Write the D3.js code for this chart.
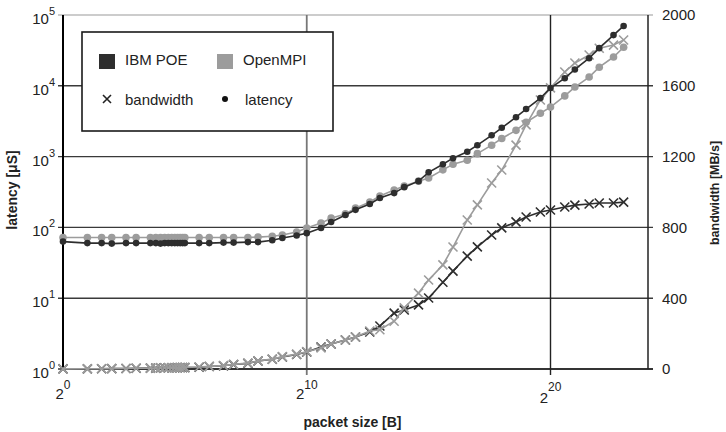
<!DOCTYPE html>
<html>
<head>
<meta charset="utf-8">
<script src="https://cdn.jsdelivr.net/npm/d3@7"></script>
<style>
  body { margin: 0; background: #fff; }
  svg { font-family: "Liberation Sans", Arial, sans-serif; }
</style>
</head>
<body>
<div id="chart"></div>
<script>
// latency / bandwidth vs packet size, IBM POE against OpenMPI

// packet sizes in bytes
var sizes = [1, 2, 3, 4, 6, 8, 12, 14, 16, 18, 20, 22, 24, 26, 28, 30, 32, 48,
  64, 96, 128, 192, 256, 384, 512, 768, 1024, 1536, 2048, 3072, 4096, 6144,
  8192, 12288, 16384, 24576, 32768, 49152, 65536, 98304, 131072, 196608,
  262144, 393216, 524288, 786432, 1048576, 1572864, 2097152, 3145728,
  4194304, 6291456, 8388608];

// latency in microseconds
var poeLatency = [63, 60, 60, 59, 60, 60, 60, 60, 59, 60, 60, 60, 60, 60, 60, 60, 60, 60,
  60, 61, 61, 62, 62, 66, 71, 77, 83, 98, 119, 150, 177, 214,
  260, 305, 370, 450, 600, 780, 950, 1170, 1450, 2000,
  2550, 3600, 4700, 6700, 9300, 12800, 17000, 24500,
  34000, 52000, 70000];
var mpiLatency = [72, 72, 72, 72, 72, 72, 72, 72, 72, 72, 72, 72, 72, 72, 72, 72, 72, 72,
  72, 72, 72, 72, 73, 75, 78, 86, 98, 115, 135, 155, 187, 228,
  278, 338, 385, 450, 500, 650, 780, 890, 1100, 1450,
  1800, 2350, 3050, 4100, 5000, 7200, 9600, 13300,
  18300, 25500, 35000];

// bandwidth in MB/s
var poeBandwidth = [0.5, 1, 1.5, 2, 3, 4, 5, 5, 6, 6, 7, 7, 7, 8, 8, 8, 8, 10,
  14, 18, 25, 32, 45, 55, 68, 82, 96, 124, 141, 164, 181, 209,
  243, 316, 333, 362, 401, 490, 553, 638, 690, 757,
  797, 831, 859, 887, 898, 915, 926, 932,
  938, 938, 943];
var mpiBandwidth = [0.5, 1, 1.5, 2, 3, 4, 5, 5, 6, 6, 7, 7, 8, 8, 8, 9, 9, 11,
  15, 19, 26, 33, 46, 56, 70, 84, 98, 119, 141, 164, 181, 215,
  222, 270, 345, 429, 503, 588, 689, 842, 927, 1051,
  1124, 1265, 1379, 1520, 1588, 1678, 1729, 1774,
  1812, 1830, 1859];

var latencyTicks = [1, 10, 100, 1000, 10000, 100000];
var bandwidthTicks = [0, 400, 800, 1200, 1600, 2000];
var sizeExponents = [0, 10, 20];

var dark = "#2e2e2e";
var light = "#9c9c9c";

var width = 726;
var height = 432;
var margin = {top: 15, right: 78, bottom: 63, left: 63};

var svg = d3.select("#chart")
  .append("svg")
  .attr("width", width)
  .attr("height", height);

var x = d3.scaleLog().base(2)
  .domain([1, Math.pow(2, 24)])
  .range([margin.left, width - margin.right]);
var yLat = d3.scaleLog()
  .domain([1, 1e5])
  .range([height - margin.bottom, margin.top]);
var yBw = d3.scaleLinear()
  .domain([0, 2000])
  .range([height - margin.bottom, margin.top]);

var x0 = margin.left, x1 = width - margin.right;
var y0 = height - margin.bottom, y1 = margin.top;

// horizontal grid (shared by both y axes), ticks stick out on each side
svg.append("g")
  .selectAll("line")
  .data(latencyTicks)
  .join("line")
  .attr("x1", x0 - 5)
  .attr("x2", x1 + 5)
  .attr("y1", d => yLat(d))
  .attr("y2", d => yLat(d))
  .attr("stroke", d => d === 1e5 ? "#9a9a9a" : "#3a3a3a")
  .attr("stroke-width", d => d === 1e5 ? 1.2 : 1.4);

// vertical grid at 2^10 and 2^20
svg.append("g")
  .selectAll("line")
  .data(sizeExponents.slice(1))
  .join("line")
  .attr("x1", d => x(Math.pow(2, d)))
  .attr("x2", d => x(Math.pow(2, d)))
  .attr("y1", y1)
  .attr("y2", y0 + 6)
  .attr("stroke", d => d === 10 ? "#777" : "#222")
  .attr("stroke-width", d => d === 10 ? 1.8 : 1.4);

// axis lines
svg.append("line")
  .attr("x1", x0).attr("x2", x0)
  .attr("y1", y1).attr("y2", y0 + 1)
  .attr("stroke", "#000").attr("stroke-width", 2);
svg.append("line")
  .attr("x1", x1).attr("x2", x1)
  .attr("y1", y1).attr("y2", y0)
  .attr("stroke", "#222").attr("stroke-width", 1.5);
svg.append("line")
  .attr("x1", x0).attr("x2", x1 + 5)
  .attr("y1", y0).attr("y2", y0)
  .attr("stroke", "#222").attr("stroke-width", 1.5);

// left tick labels 10^n
var leftLabels = svg.append("g")
  .selectAll("text")
  .data(latencyTicks)
  .join("text")
  .attr("x", x0 - 8)
  .attr("y", d => yLat(d) + 9)
  .attr("text-anchor", "end")
  .attr("fill", "#222")
  .style("font-size", "15px");
leftLabels.append("tspan").text("10");
leftLabels.append("tspan")
  .attr("dy", -9)
  .style("font-size", "11px")
  .text(d => Math.round(Math.log10(d)));

// right axis
svg.append("g")
  .attr("transform", `translate(${x1}, 0)`)
  .call(d3.axisRight(yBw).tickValues(bandwidthTicks).tickSize(0).tickPadding(14)
    .tickFormat(d3.format("d")))
  .call(g => g.select(".domain").remove())
  .call(g => g.selectAll("text")
    .attr("fill", "#222")
    .style("font-size", "15px")
    .style("font-family", "Liberation Sans, Arial, sans-serif"));

// bottom tick labels 2^n
var bottomLabels = svg.append("g")
  .selectAll("text")
  .data(sizeExponents)
  .join("text")
  .attr("x", d => x(Math.pow(2, d)))
  .attr("y", d => y0 + (d === 20 ? 34 : 30))
  .attr("text-anchor", "middle")
  .attr("fill", "#222")
  .style("font-size", "15px");
bottomLabels.append("tspan").text("2");
bottomLabels.append("tspan")
  .attr("dy", d => d === 20 ? -12 : -10)
  .style("font-size", "12px")
  .text(d => d);

// axis titles
svg.append("text")
  .attr("transform", `translate(${x0 + (x1 - x0) / 2 - 3}, 427) `)
  .attr("text-anchor", "middle")
  .style("font-size", "14px")
  .style("font-weight", "bold")
  .attr("fill", "#222")
  .text("packet size [B]");
svg.append("text")
  .attr("transform", "translate(17, 190) rotate(-90)")
  .attr("text-anchor", "middle")
  .style("font-size", "14px")
  .style("font-weight", "bold")
  .attr("fill", "#222")
  .text("latency [μS]");
svg.append("text")
  .attr("transform", "translate(719, 193) rotate(-90)")
  .attr("text-anchor", "middle")
  .style("font-size", "12.5px")
  .style("font-weight", "bold")
  .attr("fill", "#222")
  .text("bandwidth [MB/s]");

// series
var series = [
  {values: poeBandwidth, color: dark, y: yBw, mark: "x"},
  {values: mpiBandwidth, color: light, y: yBw, mark: "x"},
  {values: mpiLatency, color: light, y: yLat, mark: "dot", r: 3.8},
  {values: poeLatency, color: dark, y: yLat, mark: "dot", r: 3.3}
];

var crossPath = "M-4.5,-4.5L4.5,4.5M-4.5,4.5L4.5,-4.5";

series.forEach(function(s) {
  var pts = sizes.map((d, i) => ({size: d, v: s.values[i]}));
  var line = d3.line()
    .x(d => x(d.size))
    .y(d => s.y(d.v));
  svg.append("path")
    .datum(pts)
    .attr("d", line)
    .attr("fill", "none")
    .attr("stroke", s.color)
    .attr("stroke-width", 1.6);
  if (s.mark === "x") {
    svg.append("g")
      .selectAll("path")
      .data(pts)
      .join("path")
      .attr("transform", d => `translate(${x(d.size)}, ${s.y(d.v)})`)
      .attr("d", crossPath)
      .attr("stroke", s.color)
      .attr("stroke-width", 1.6)
      .attr("fill", "none");
  } else {
    svg.append("g")
      .selectAll("circle")
      .data(pts)
      .join("circle")
      .attr("cx", d => x(d.size))
      .attr("cy", d => s.y(d.v))
      .attr("r", s.r)
      .attr("fill", s.color);
  }
});

// legend
var legend = svg.append("g");
legend.append("rect")
  .attr("x", 82).attr("y", 32)
  .attr("width", 251).attr("height", 99)
  .attr("fill", "#fff")
  .attr("stroke", "#1a1a1a")
  .attr("stroke-width", 1.6);

var legendSeries = [
  {name: "IBM POE", color: dark, x: 99},
  {name: "OpenMPI", color: light, x: 217}
];
legendSeries.forEach(function(d) {
  legend.append("rect")
    .attr("x", d.x).attr("y", 54)
    .attr("width", 16).attr("height", 15)
    .attr("fill", d.color);
  legend.append("text")
    .attr("x", d.x + 26).attr("y", 65)
    .style("font-size", "15px")
    .attr("fill", "#222")
    .text(d.name);
});
legend.append("path")
  .attr("transform", "translate(107, 99)")
  .attr("d", "M-4,-4L4,4M-4,4L4,-4")
  .attr("stroke", "#222")
  .attr("stroke-width", 1.6);
legend.append("text")
  .attr("x", 125).attr("y", 105)
  .style("font-size", "15px")
  .attr("fill", "#222")
  .text("bandwidth");
legend.append("circle")
  .attr("cx", 225).attr("cy", 99)
  .attr("r", 3)
  .attr("fill", "#111");
legend.append("text")
  .attr("x", 245).attr("y", 105)
  .style("font-size", "15px")
  .attr("fill", "#222")
  .text("latency");
</script>
</body>
</html>
